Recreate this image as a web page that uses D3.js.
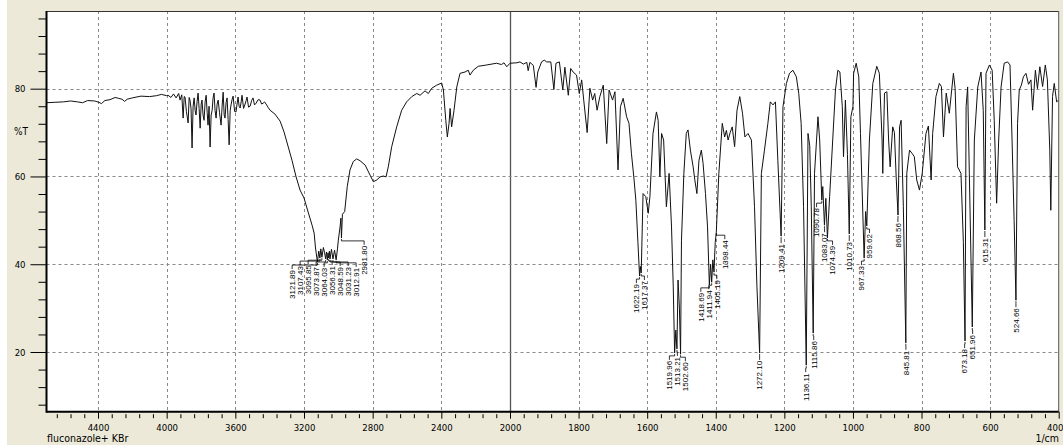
<!DOCTYPE html>
<html>
<head>
<meta charset="utf-8">
<title>fluconazole + KBr</title>
<script src="https://cdn.jsdelivr.net/npm/d3@7"></script>
<style>
  body { margin: 0; background: #fff; }
  svg { display: block; }
  text { font-family: "DejaVu Sans", sans-serif; font-stretch: condensed; }
  .grid { stroke: #888; stroke-width: 1; stroke-dasharray: 3,3; }
  .spec { fill: none; stroke: #111; stroke-width: 1; }
  .leader { fill: none; stroke: #000; stroke-width: 0.8; }
</style>
</head>
<body>
<svg id="chart" width="1063" height="445"></svg>
<script>
// spectrum readings (wavenumber 1/cm, %T)
var specWn = [4700,4650,4600,4560,4520,4490,4460,4420,4395,4380,4360,4330,4300,4280,4260,4245,4230,4200,4150,4100,4060,4030,4000,
  3992,3975,3960,3945,3930,3922,3912,3904,3898,3893,3885,3875,3869,3864,3858,3852,3846,3840,3834,3829,3823,3817,3811,3805,3799,
  3794,3788,3782,3776,3770,3764,3759,3753,3747,3741,3735,3730,3724,3718,3712,3706,3700,3692,3683,3677,3671,3665,3660,3654,3648,
  3642,3636,3630,3625,3619,3613,3604,3596,3590,3584,3578,3572,3566,3561,3552,3543,3537,3532,3523,3514,3505,3497,3488,3479,3467,
  3456,3447,3438,3430,3421,3410,3398,3369,3339,3316,3293,3270,3246,3223,3200,3176,3153,3141,3133,
  3114,3102,3087,3080,3069,3060,3052,3040,3022,3005,3000,2990,2985,2976,2963,2948,2932,2913,2893,2874,2844,2815,2796,2776,2757,
  2738,2722,2709,2689,2660,2631,2602,2572,2543,2524,2495,2476,2456,2427,2398,2388,2374,2365,2355,2349,2340,2326,2310,2291,2262,
  2243,2233,2214,2185,2136,2078,2050,2035,2019,2000,
  1980,1971,1961,1951,1947,1942,1932,1924,1919,1908,1900,1893,1881,1872,1866,1856,1846,1840,1830,1823,1816,1806,1798,1791,1785,
  1775,1767,1759,1753,1746,1738,1728,1718,1711,1701,1694,1685,1678,1670,1660,1653,1646,1639,1633,1627,1620,1612,1604,1597,1592,
  1583,1573,1568,1563,1558,1552,1544,1536,1529,1524,1516.5,1510,1506,1500,1493,1486,1481,1474,1466,1461,1455,1449,1442,1437,1430,
  1424,1415,1408.5,1401.5,1391,1381,1374,1369,1364,1358,1352,1345,1338,1330,1322,1315,1306,1296,1287,1280,1267,1258,1248,1241,
  1233,1226,1219,1204,1194,1185,1175,1165,1158,1151,1144,1131,1126,1121.5,1112,1102,1097,1088,1079,1068,1059,1051,1044,1038,1031,
  1027.5,1022,1016,1006,1000,998,990.5,983,978,963,952,942,930.5,923,915,913,908,901,896,891.5,884,879,874,864,859.5,853,843,835,
  827,821,814,806,798,787,780,772,767.5,758,748,742,736,728,719,707,702,695,685,678,670,665.5,660.6,646,636,626.5,620,612,602,594,
  588,581,575,568,559,549,542,536,530,520,515,509,503,495.5,488,481,476,468,462,455,447,439,433,426,423,418,413,406,400];
var specT = [76.8,76.9,77.0,77.2,77.0,76.8,77.3,77.2,76.9,76.6,77.3,77.5,78.0,77.8,77.6,77.1,77.6,77.9,78.3,78.2,78.4,78.7,78.4,
  78.5,78.0,78.8,77.9,78.9,77.4,78.6,73.3,78.2,78.1,74.8,72.2,78.0,77.4,75.5,66.5,76.0,77.9,75.0,74.0,77.0,79.0,75.5,71.0,76.5,
  77.4,74.0,72.8,77.0,78.5,74.5,71.7,76.0,66.7,74.0,75.1,77.8,79.0,75.0,73.3,76.5,77.4,74.5,71.7,76.0,79.2,74.0,73.3,76.8,77.9,
  73.0,67.2,75.0,76.3,77.5,78.3,74.8,74.7,76.5,78.1,76.0,75.6,77.0,78.5,75.5,76.5,77.3,78.1,75.8,76.0,77.3,77.9,76.3,76.7,77.5,
  77.4,76.5,76.7,77.0,76.5,75.8,75.1,74.2,72.6,70.1,66.9,63.7,59.9,56.9,55.1,51.9,48.9,47.1,43.7,
  43.0,43.5,43.8,42.6,42.8,42.6,43.0,43.4,43.2,43.5,45.5,48.5,50.5,51.4,52.0,57.7,61.5,63.4,64.0,63.6,62.6,60.3,58.8,59.2,59.9,
  60.1,59.9,62.2,66.8,71.3,75.1,77.0,78.2,78.9,78.5,79.5,78.9,80.1,80.8,81.3,79.7,72.8,69.0,72.1,75.5,71.3,75.1,80.4,83.5,83.8,
  84.2,83.1,84.2,85.1,85.4,85.8,85.5,85.9,85.0,85.8,
  85.9,86.1,85.6,86.0,84.1,86.0,85.3,80.3,83.8,86.1,86.5,86.1,86.1,79.8,85.8,86.1,79.7,84.9,78.5,84.6,83.8,83.1,78.9,82.0,77.4,
  70.0,80.1,77.4,78.9,75.1,78.2,80.8,67.5,79.7,77.4,79.3,61.5,75.9,77.8,73.6,72.1,65.3,59.9,54.6,45.0,39.5,56.1,55.4,51.6,55.4,
  69.8,74.7,72.8,59.9,69.8,68.3,53.1,60.7,48.5,35.0,25.0,36.4,30.0,45.5,60.7,69.8,70.6,66.0,62.2,59.2,56.1,63.7,66.0,63.0,56.1,
  48.5,40.0,41.0,45.0,60.7,72.1,69.0,70.5,68.3,70.0,71.3,66.8,75.1,78.2,74.4,69.0,69.8,68.3,53.1,35.0,60.7,66.0,72.1,77.0,
  76.3,77.0,63.7,75.9,81.2,83.5,84.2,82.7,78.9,72.1,53.1,69.8,67.0,53.1,60.7,73.6,68.3,57.7,55.0,55.4,68.3,79.7,84.2,83.8,75.9,
  64.5,77.4,65.0,73.6,75.9,83.5,85.8,82.7,69.8,52.0,68.3,81.2,85.1,83.5,68.3,60.7,79.0,79.3,68.3,62.2,71.3,70.0,60.0,71.3,72.8,53.1,60.7,66.0,
  65.2,64.5,59.2,56.9,60.7,69.8,71.5,59.2,69.8,78.2,81.2,80.5,69.0,79.0,74.4,83.5,80.0,62.2,60.7,45.0,75.9,80.4,60.7,68.3,80.4,83.8,75.0,83.5,85.4,84.2,
  72.8,53.9,68.3,80.4,85.8,86.1,85.4,68.3,50.0,72.1,79.7,80.8,82.7,83.5,81.0,82.0,75.1,84.2,80.0,85.0,80.5,85.4,82.0,66.0,52.3,78.2,81.2,77.0,77.4];

// labelled peaks
var peakWn = [3121.89,3107.43,3095.85,3073.87,3064.03,3056.31,3048.59,3031.23,3012.91,2981.80,
  1622.19,1617.37,1519.96,1513.21,1502.60,1418.69,1411.94,1405.19,1398.44,1272.10,1209.41,
  1136.11,1115.86,1090.78,1083.07,1074.39,1010.73,967.33,959.62,868.56,845.81,673.18,651.96,615.31,524.66];
var peakT = [40.5,41.4,41.6,41.2,41.0,41.4,41.2,41.2,41.0,46.0,
  37.3,38.0,19.8,20.7,19.5,35.3,35.9,38.2,47.3,19.8,46.4,
  17.0,24.3,54.6,48.9,46.0,46.9,41.4,48.7,51.2,22.1,22.5,25.7,47.8,31.8];

var xMajor = [4400,4000,3600,3200,2800,2400,2000,1800,1600,1400,1200,1000,800,600,400];
var yMajor = [20,40,60,80];
var xTitle = "1/cm", yTitle = "%T", sample = "fluconazole+ KBr";

var svg = d3.select("#chart");
var L = 46.5, R = 1058.7, T = 11, B = 411.7;

var x = d3.scaleLinear().domain([4700, 2000, 400]).range([L, 510, R]);
var y = d3.scaleLinear().domain([6.4, 97.7]).range([B, T]);

svg.append("rect").attr("x", 7).attr("y", 0).attr("width", 1056).attr("height", 445).attr("fill", "#ECE9D8");
svg.append("rect").attr("x", L).attr("y", T).attr("width", R - L).attr("height", B - T).attr("fill", "#fff");

svg.append("defs").append("clipPath").attr("id", "clip")
  .append("rect").attr("x", L).attr("y", T).attr("width", R - L).attr("height", B - T);

// grid
svg.append("g").selectAll("line").data(xMajor.filter(d => d !== 2000 && d !== 400)).join("line")
  .attr("class", "grid")
  .attr("x1", d => Math.round(x(d)) + 0.5).attr("x2", d => Math.round(x(d)) + 0.5)
  .attr("y1", T).attr("y2", B);
svg.append("line").attr("x1", Math.round(x(2000)) + 0.5).attr("x2", Math.round(x(2000)) + 0.5)
  .attr("y1", T).attr("y2", B).attr("stroke", "#555").attr("stroke-width", 1.3);
svg.append("g").selectAll("line").data(yMajor).join("line")
  .attr("class", "grid")
  .attr("x1", L).attr("x2", R)
  .attr("y1", d => Math.round(y(d)) + 0.5).attr("y2", d => Math.round(y(d)) + 0.5);

// spectrum
var pts = specWn.map((w, i) => [w, specT[i]])
  .concat(peakWn.map((w, i) => [w, peakT[i]]))
  .sort((a, b) => b[0] - a[0]);
svg.append("path").datum(pts)
  .attr("class", "spec")
  .attr("clip-path", "url(#clip)")
  .attr("d", d3.line().x(d => x(d[0])).y(d => y(d[1])));

// peak labels, spread when they crowd
var peaks = peakWn.map((w, i) => ({ w: w, px: x(w), py: y(peakT[i]) }))
  .sort((a, b) => a.px - b.px);
var groups = [], cur = [];
peaks.forEach(p => {
  if (cur.length && p.px - cur[cur.length - 1].px >= 8) { groups.push(cur); cur = []; }
  cur.push(p);
});
groups.push(cur);
groups.forEach(g => {
  var mid = d3.mean(g, d => d.px);
  g.forEach((p, i) => { p.lx = g.length > 1 ? mid + (i - (g.length - 1) / 2) * 8 : p.px; });
});
var lab = svg.append("g");
lab.selectAll("path").data(peaks).join("path")
  .attr("class", "leader")
  .attr("d", p => "M" + p.px + "," + (p.py + 1) + "V" + (p.py + 3) + "H" + p.lx + "V" + (p.py + 7));
lab.selectAll("text").data(peaks).join("text")
  .attr("transform", p => "translate(" + p.lx + "," + (p.py + 8) + ") rotate(-90)")
  .attr("text-anchor", "end")
  .attr("dy", "0.35em")
  .attr("font-size", 8)
  .style("font-family", "'Liberation Sans', sans-serif")
  .style("font-stretch", "normal")
  .text(p => p.w.toFixed(2));

// axes
var minorX = d3.range(4640, 2000, -80).filter(d => d % 400 !== 0)
  .concat(d3.range(1960, 400, -40).filter(d => d % 200 !== 0));
var minorY = d3.range(8, 97, 4).filter(d => d % 20 !== 0);

svg.append("g").attr("transform", "translate(0," + B + ")")
  .call(d3.axisBottom(x).tickValues(xMajor).tickSize(7).tickPadding(6).tickFormat(d3.format("d")));
svg.append("g").attr("transform", "translate(0," + (B + 2.5) + ")")
  .call(d3.axisBottom(x).tickValues(minorX).tickSize(4).tickFormat(""));
svg.append("g").attr("transform", "translate(" + L + ",0)")
  .call(d3.axisLeft(y).tickValues(yMajor).tickSize(16).tickPadding(5));
svg.append("g").attr("transform", "translate(" + L + ",0)")
  .call(d3.axisLeft(y).tickValues(minorY).tickSize(8).tickFormat(""));
svg.selectAll(".domain").remove();
svg.selectAll(".tick text").attr("font-size", 9.5).attr("fill", "#000")
  .style("font-family", "'DejaVu Sans', sans-serif").style("font-stretch", "condensed");
// keep the last label inside the window
svg.selectAll(".tick text").filter(d => d === 400).attr("dx", -4);
svg.selectAll(".tick line").attr("stroke", "#000");

// frame
svg.append("line").attr("x1", L).attr("x2", R).attr("y1", T + 0.5).attr("y2", T + 0.5).attr("stroke", "#333");
svg.append("line").attr("x1", R).attr("x2", R).attr("y1", T).attr("y2", B).attr("stroke", "#555");
svg.append("line").attr("x1", L).attr("x2", L).attr("y1", T).attr("y2", B + 1).attr("stroke", "#000").attr("stroke-width", 2);
svg.append("line").attr("x1", L).attr("x2", R).attr("y1", B).attr("y2", B).attr("stroke", "#000").attr("stroke-width", 2);

svg.append("text").attr("x", 14).attr("y", 135).attr("font-size", 10).text(yTitle);
svg.append("text").attr("x", 47).attr("y", 442).attr("font-size", 10.5).text(sample);
svg.append("text").attr("x", 1059).attr("y", 442).attr("text-anchor", "end").attr("font-size", 10.5).text(xTitle);
</script>
</body>
</html>
